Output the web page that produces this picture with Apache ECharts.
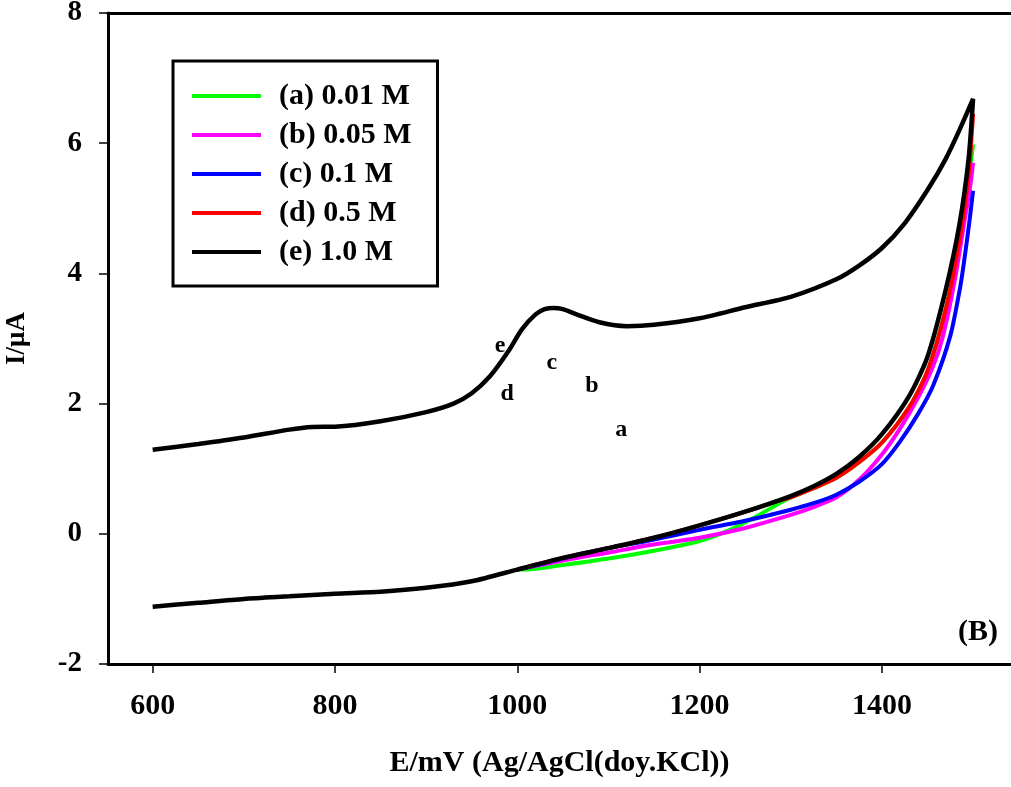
<!DOCTYPE html>
<html><head><meta charset="utf-8">
<script src="https://cdn.jsdelivr.net/npm/echarts@6/dist/echarts.min.js"></script>
<style>html,body{margin:0;padding:0;background:#fff}#c{width:1011px;height:787px}</style>
</head><body><div id="c"></div>
<script>
const seriesNames = ['(a) 0.01 M', '(b) 0.05 M', '(c) 0.1 M', '(d) 0.5 M', '(e) 1.0 M'];
const seriesColors = ['#00ff00', '#ff00ff', '#0000ff', '#ff0000', '#000000'];
const xTicks = [600, 800, 1000, 1200, 1400];
const yTicks = [-2, 0, 2, 4, 6, 8];

// (e) 1.0 M : forward (upper) branch and reverse (lower) branch
const eFwdE = [600, 650, 700, 750, 775, 800, 850, 900, 930, 950, 970, 990, 1005, 1020, 1030, 1040, 1050, 1065, 1090, 1120, 1150, 1200, 1250, 1300, 1350, 1375, 1400, 1425, 1450, 1470, 1485, 1500];
const eFwdI = [1.29, 1.38, 1.48, 1.60, 1.64, 1.645, 1.73, 1.87, 2.00, 2.16, 2.42, 2.80, 3.14, 3.37, 3.45, 3.47, 3.45, 3.37, 3.25, 3.19, 3.21, 3.31, 3.48, 3.64, 3.91, 4.12, 4.39, 4.77, 5.28, 5.76, 6.20, 6.68];
const eRevE = [1500, 1495, 1485, 1470, 1450, 1430, 1400, 1375, 1350, 1325, 1300, 1250, 1200, 1150, 1100, 1050, 1000, 950, 900, 850, 800, 750, 700, 650, 600];
const eRevI = [6.68, 5.75, 4.75, 3.75, 2.72, 2.12, 1.53, 1.18, 0.92, 0.73, 0.58, 0.34, 0.13, -0.06, -0.22, -0.37, -0.55, -0.73, -0.83, -0.89, -0.92, -0.96, -1.00, -1.06, -1.12];

// (a) 0.01 M
const aE = [1000, 1010, 1050, 1100, 1150, 1200, 1230, 1260, 1290, 1300, 1325, 1350, 1375, 1400, 1430, 1450, 1470, 1485, 1495, 1500];
const aI = [-0.55, -0.55, -0.48, -0.38, -0.26, -0.11, 0.04, 0.25, 0.49, 0.56, 0.70, 0.86, 1.10, 1.40, 1.95, 2.50, 3.45, 4.50, 5.45, 5.98];
// (b) 0.05 M
const bE = [1000, 1025, 1069, 1100, 1142, 1200, 1250, 1300, 1325, 1350, 1375, 1400, 1420, 1440, 1456, 1467, 1480, 1490, 1497, 1500];
const bI = [-0.55, -0.48, -0.36, -0.29, -0.18, -0.06, 0.09, 0.29, 0.41, 0.56, 0.83, 1.22, 1.62, 2.10, 2.57, 3.04, 3.90, 4.75, 5.35, 5.70];
// (c) 0.1 M
const cE = [1000, 1025, 1069, 1100, 1142, 1200, 1250, 1300, 1325, 1350, 1375, 1400, 1420, 1440, 1456, 1475, 1486, 1491, 1496, 1500];
const cI = [-0.55, -0.47, -0.31, -0.22, -0.11, 0.06, 0.20, 0.37, 0.47, 0.60, 0.80, 1.07, 1.42, 1.85, 2.27, 3.04, 3.80, 4.27, 4.80, 5.27];
// (d) 0.5 M
const dE = [1000, 1050, 1100, 1150, 1200, 1250, 1280, 1300, 1325, 1350, 1375, 1400, 1430, 1450, 1470, 1485, 1495, 1500];
const dI = [-0.55, -0.37, -0.22, -0.06, 0.13, 0.34, 0.48, 0.56, 0.70, 0.86, 1.10, 1.40, 1.95, 2.50, 3.45, 4.50, 5.50, 6.45];

// curve letter annotations
const curveLabels = ['a', 'b', 'c', 'd', 'e'];
const curveLabelE = [1114, 1082, 1038, 989, 981];
const curveLabelI = [1.60, 2.28, 2.63, 2.15, 2.89];

const FONT = '"Liberation Serif", "Times New Roman", serif';
const zip = (xs, ys) => xs.map((x, i) => [x, ys[i]]);

const curves = [
  zip(aE, aI),
  zip(bE, bI),
  zip(cE, cI),
  zip(dE, dI),
  zip(eFwdE, eFwdI).concat(zip(eRevE.slice(1), eRevI.slice(1)))
];

const chart = echarts.init(document.getElementById('c'), null, {renderer: 'canvas'});
const series = curves.map((d, i) => ({
  name: seriesNames[i],
  type: 'line',
  data: d,
  showSymbol: false,
  smooth: 0.25,
  color: seriesColors[i],
  lineStyle: {width: i === 4 ? 4.5 : 4, color: seriesColors[i]},
  animation: false,
  z: 2 + i
}));
series.push({
  type: 'scatter',
  data: curveLabels.map((t, i) => [curveLabelE[i], curveLabelI[i], t]),
  symbolSize: 0,
  itemStyle: {color: 'rgba(0,0,0,0)', opacity: 1},
  silent: true,
  animation: false,
  label: {
    show: true, position: 'inside',
    formatter: p => p.value[2],
    fontFamily: FONT, fontWeight: 'bold', fontSize: 24, color: '#000', opacity: 1, textBorderWidth: 0
  },
  z: 10
});

chart.setOption({
  backgroundColor: '#fff',
  animation: false,
  grid: {left: 108, right: 0, top: 13, bottom: 123, containLabel: false, outerBoundsMode: 'none'},
  legend: {
    data: seriesNames,
    orient: 'vertical',
    left: 173, top: 61,
    padding: [20, 26, 19, 19],
    borderColor: '#000', borderWidth: 3,
    backgroundColor: '#fff',
    icon: 'rect',
    itemWidth: 69, itemHeight: 4,
    itemGap: 9,
    textStyle: {fontFamily: FONT, fontWeight: 'bold', fontSize: 30, color: '#000', lineHeight: 30, padding: [0, 0, 0, 13]}
  },
  xAxis: [{
    type: 'value', min: 551, max: 1541.6,
    position: 'bottom',
    name: 'E/mV (Ag/AgCl(doy.KCl))',
    nameLocation: 'middle', nameGap: 84,
    nameTextStyle: {fontFamily: FONT, fontWeight: 'bold', fontSize: 30, color: '#000'},
    axisLine: {show: true, onZero: false, lineStyle: {color: '#000', width: 3}},
    axisTick: {show: true, inside: false, length: 9, customValues: xTicks, lineStyle: {color: '#000', width: 1.5}},
    axisLabel: {show: true, margin: 27, customValues: xTicks, formatter: v => String(v), fontFamily: FONT, fontWeight: 'bold', fontSize: 30, color: '#000'},
    splitLine: {show: false}
  }, {
    type: 'value', min: 551, max: 1541.6,
    position: 'top',
    axisLine: {show: true, onZero: false, lineStyle: {color: '#000', width: 3}},
    axisTick: {show: false}, axisLabel: {show: false}, splitLine: {show: false}
  }],
  yAxis: {
    type: 'value', min: -2, max: 8, interval: 2,
    name: 'I/\u03bcA',
    nameLocation: 'middle', nameGap: 77, nameRotate: 90,
    nameTextStyle: {fontFamily: FONT, fontWeight: 'bold', fontSize: 27, color: '#000'},
    axisLine: {show: true, onZero: false, lineStyle: {color: '#000', width: 3}},
    axisTick: {show: true, inside: false, length: 9, lineStyle: {color: '#000', width: 1.5}},
    axisLabel: {show: true, margin: 26, customValues: yTicks, formatter: v => String(v), fontFamily: FONT, fontWeight: 'bold', fontSize: 29, color: '#000'},
    splitLine: {show: false}
  },
  graphic: [{
    type: 'text', left: 958, top: 617,
    style: {text: '(B)', font: 'bold 30px ' + FONT, fill: '#000'}
  }],
  series: series
});
</script>
</body></html>
